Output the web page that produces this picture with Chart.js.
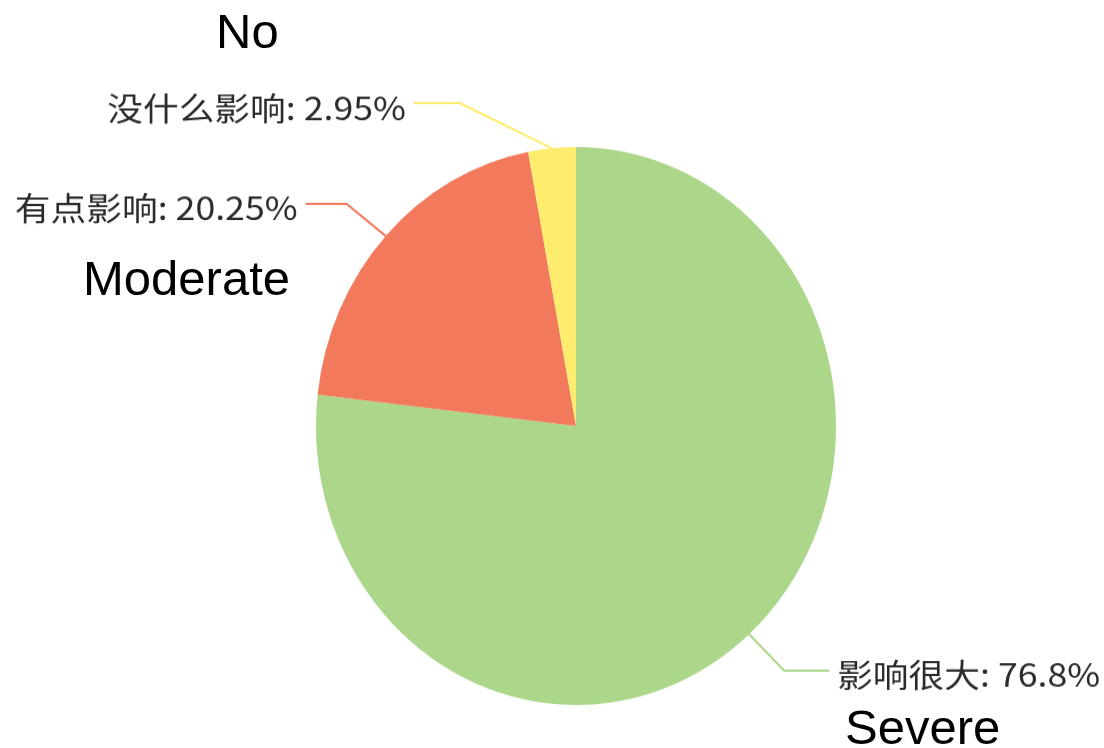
<!DOCTYPE html>
<html lang="zh">
<head>
    <meta charset="UTF-8">
    <title>影响程度</title>
    <script src="https://cdn.jsdelivr.net/npm/chart.js"></script>
    <style>
        body {
            margin: 0;
            background: #fff;
            width: 1104px;
            height: 748px;
            overflow: hidden;
            position: relative;
        }

        .pie-wrap {
            position: absolute;
            left: 0;
            top: 0;
            width: 1104px;
            height: 748px;
            /* pie is drawn slightly taller than wide */
            transform: scaleY(1.073);
            transform-origin: 576px 426px;
        }

        .note {
            position: absolute;
            font-family: 'Liberation Sans', Arial, sans-serif;
            font-size: 49px;
            line-height: 49px;
            color: #000;
            white-space: nowrap;
        }
    </style>
</head>
<body>
    <div class="pie-wrap">
        <canvas id="pie" width="1104" height="748"></canvas>
    </div>
    <div class="note" style="left: 216px; top: 7px;">No</div>
    <div class="note" style="left: 83px; top: 254px;">Moderate</div>
    <div class="note" style="left: 845px; top: 703px;">Severe</div>

    <script>
        const categories = ['影响很大', '有点影响', '没什么影响'];
        const percents = [76.8, 20.25, 2.95];
        const sliceColors = ['#acd68a', '#f2795b', '#fdec6d'];

        // leader line shape per slice: first segment offset, then horizontal run
        const labelLines = [
            { dx: 35, dy: 34, len: 45 },
            { dx: -39, dy: -30, len: 41 },
            { dx: -92, dy: -42, len: 46 }
        ];

        const leaderLabels = {
            id: 'leaderLabels',
            afterDatasetsDraw(chart) {
                const ctx = chart.ctx;
                const arcs = chart.getDatasetMeta(0).data;
                ctx.save();
                ctx.font = '30px "Noto Sans CJK SC", sans-serif';
                ctx.textBaseline = 'middle';
                arcs.forEach((arc, i) => {
                    const mid = (arc.startAngle + arc.endAngle) / 2;
                    const x0 = arc.x + Math.cos(mid) * arc.outerRadius;
                    const y0 = arc.y + Math.sin(mid) * arc.outerRadius;
                    const ln = labelLines[i];
                    const side = ln.dx < 0 ? -1 : 1;
                    const x1 = x0 + ln.dx;
                    const y1 = y0 + ln.dy;
                    const x2 = x1 + side * ln.len;

                    ctx.strokeStyle = sliceColors[i];
                    ctx.lineWidth = 2;
                    ctx.beginPath();
                    ctx.moveTo(x0, y0);
                    ctx.lineTo(x1, y1);
                    ctx.lineTo(x2, y1);
                    ctx.stroke();

                    // labels are set in a wide face
                    ctx.save();
                    ctx.translate(x2 + side * 8, y1 + 4);
                    ctx.scale(1.19, 1);
                    ctx.fillStyle = '#2b2b2b';
                    ctx.textAlign = side < 0 ? 'right' : 'left';
                    ctx.fillText(categories[i] + ': ' + percents[i] + '%', 0, 0);
                    ctx.restore();
                });
                ctx.restore();
            }
        };

        new Chart(document.getElementById('pie'), {
            type: 'pie',
            data: {
                labels: categories,
                datasets: [{
                    data: percents,
                    backgroundColor: sliceColors,
                    borderWidth: 0
                }]
            },
            options: {
                responsive: false,
                animation: false,
                layout: {
                    padding: { left: 316, right: 268, top: 166, bottom: 62 }
                },
                plugins: {
                    legend: { display: false },
                    tooltip: { enabled: false }
                }
            },
            plugins: [leaderLabels]
        });
    </script>
</body>
</html>
